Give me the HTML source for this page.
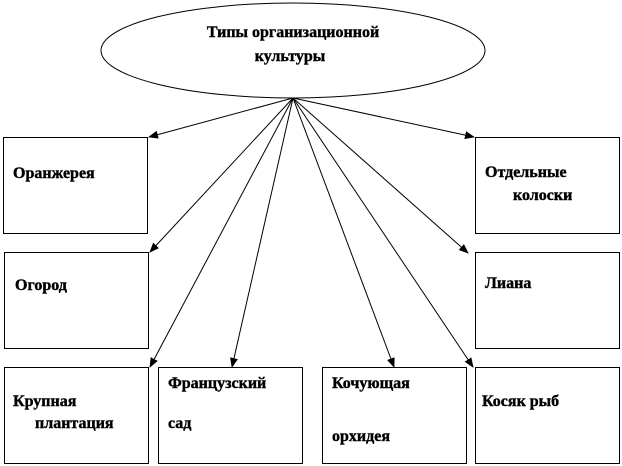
<!DOCTYPE html>
<html><head><meta charset="utf-8"><style>
html,body{margin:0;padding:0;background:#fff;}
svg{display:block;}
text{font-family:"Liberation Serif","Times New Roman","DejaVu Serif",serif;font-weight:bold;font-size:16px;fill:#000;stroke:#000;stroke-width:0.4px;}
</style></head><body>
<svg width="622" height="466" viewBox="0 0 622 466" xmlns="http://www.w3.org/2000/svg">
<defs><marker id="a" markerWidth="10" markerHeight="8" refX="9" refY="4" orient="auto" markerUnits="userSpaceOnUse"><path d="M0,0 L10,4 L0,8 z" fill="#000"/></marker></defs>
<ellipse cx="293" cy="50.5" rx="192" ry="47.5" fill="#fff" stroke="#000" stroke-width="1"/>
<text x="293" y="37" text-anchor="middle">Типы организационной</text>
<text x="290" y="61" text-anchor="middle">культуры</text>
<g fill="#fff" stroke="#000" stroke-width="1">
<rect x="3.5" y="137.5" width="144" height="96"/>
<rect x="475.5" y="137.5" width="144" height="96"/>
<rect x="4.5" y="252.5" width="144" height="96"/>
<rect x="475.5" y="252.5" width="144" height="96"/>
<rect x="4.5" y="367.5" width="144" height="96"/>
<rect x="158.5" y="367.5" width="144" height="96"/>
<rect x="322.5" y="367.5" width="144" height="96"/>
<rect x="475.5" y="367.5" width="144" height="96"/>
</g>
<g stroke="#000" stroke-width="1" marker-end="url(#a)">
<line x1="293" y1="98" x2="149" y2="137"/>
<line x1="293" y1="98" x2="474" y2="137"/>
<line x1="293" y1="98" x2="150" y2="252"/>
<line x1="293" y1="98" x2="468" y2="253"/>
<line x1="293" y1="98" x2="150" y2="367"/>
<line x1="293" y1="98" x2="232" y2="367"/>
<line x1="293" y1="98" x2="394" y2="367"/>
<line x1="293" y1="98" x2="473" y2="367"/>
</g>
<text x="13" y="178">Оранжерея</text>
<text x="485" y="177">Отдельные</text>
<text x="513" y="200">колоски</text>
<text x="15" y="290">Огород</text>
<text x="485" y="288">Лиана</text>
<text x="13" y="406">Крупная</text>
<text x="35" y="428">плантация</text>
<text x="168" y="388">Французский</text>
<text x="168" y="428">сад</text>
<text x="332" y="388">Кочующая</text>
<text x="332" y="441">орхидея</text>
<text x="482" y="406">Косяк рыб</text>
</svg>
</body></html>
